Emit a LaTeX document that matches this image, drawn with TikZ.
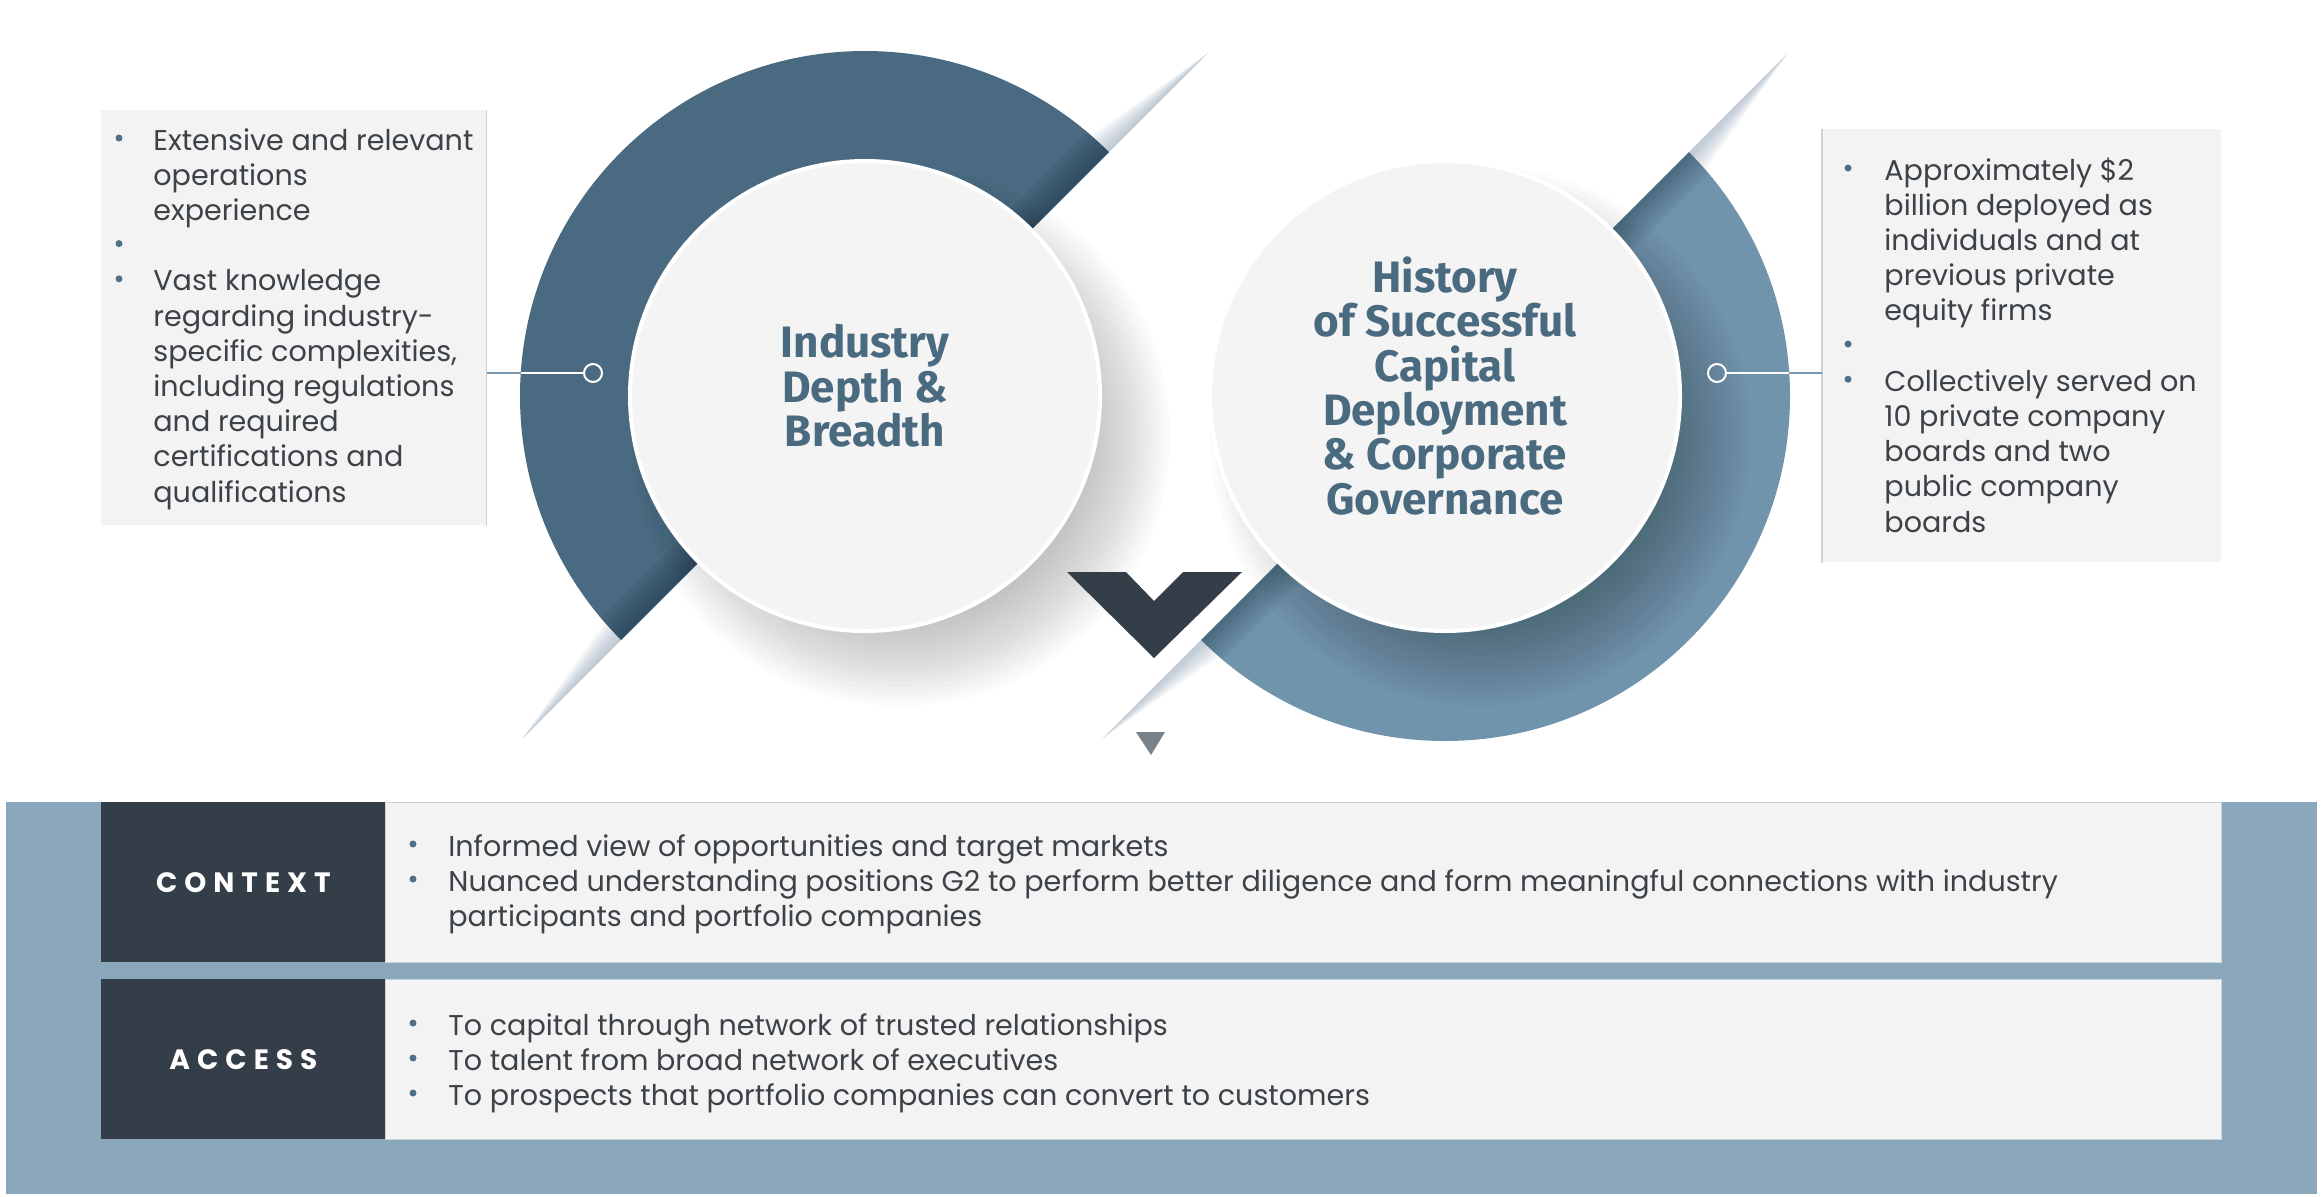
\documentclass[tikz,border=0pt]{standalone}
\usepackage{fontspec}
\setmainfont{Poppins}
\newfontfamily\titlefont{Fira Sans}
\usepackage{tikz}

\definecolor{ringdark}{RGB}{73,106,128}
\definecolor{ringlight}{RGB}{112,148,171}
\definecolor{folddark}{RGB}{20,40,60}
\definecolor{discgray}{RGB}{244,244,244}
\definecolor{slate}{RGB}{52,62,72}
\definecolor{pointgray}{RGB}{123,129,136}
\definecolor{panelblue}{RGB}{138,166,187}
\definecolor{boxgray}{RGB}{243,243,243}
\definecolor{bodygray}{RGB}{60,66,72}
\definecolor{dotblue}{RGB}{79,112,136}
\definecolor{titleblue}{RGB}{74,106,128}
\definecolor{edgeblue}{RGB}{200,210,218}
\definecolor{wireblue}{RGB}{122,150,170}
\definecolor{streakblue}{RGB}{110,135,158}

\tikzset{
    bodytext/.style={anchor=base west, inner sep=0pt, text=bodygray, font=\fontsize{14.3}{16}\selectfont},
    titletext/.style={anchor=base, inner sep=0pt, text=titleblue, font=\titlefont\bfseries\fontsize{22}{24}\selectfont},
    bulletdot/.style={circle, fill=dotblue, inner sep=0pt, minimum size=3.5pt},
    pindot/.style={circle, draw=white, line width=1pt, inner sep=0pt, minimum size=9pt},
    disc/.style={circle, fill=discgray, draw=white, line width=2pt, inner sep=0pt, minimum size=235pt},
    infobox/.style={fill=boxgray, inner sep=0pt, anchor=north west},
    labelcell/.style={fill=slate, inner sep=0pt, anchor=north west, minimum width=142pt, minimum height=80pt,
        text=white, font=\bfseries\fontsize{14}{16}\selectfont\addfontfeature{LetterSpace=25}},
    textcell/.style={fill=boxgray, draw=edgeblue, line width=0.5pt, inner sep=0pt, anchor=north west,
        minimum width=918pt, minimum height=80pt},
}

\begin{document}
\begin{tikzpicture}[x=0.5pt, y=-0.5pt]

    \useasboundingbox (0,0) rectangle (2324,1196);

    % half rings, cut along the diagonals
    \begin{scope}
        \clip (0,0) -- (1261,0) -- (0,1261) -- cycle;
        \fill[ringdark] (865,396) circle (345);
        \clip (865,396) circle (345);
        \foreach \k in {6,12,...,42}
            \fill[folddark, opacity=0.07] (1261,0) -- (0,1261) -- (0,1261-\k) -- (1261-\k,0) -- cycle;
    \end{scope}

    \begin{scope}
        \clip (1841,0) -- (2324,0) -- (2324,1196) -- (645,1196) -- cycle;
        \fill[ringlight] (1445,396) circle (345);
        \clip (1445,396) circle (345);
        \foreach \k in {6,12,...,42}
            \fill[folddark, opacity=0.06] (1841,0) -- (1841+\k,0) -- (645+\k,1196) -- (645,1196) -- cycle;
    \end{scope}

    \foreach \w in {3,6,...,24} {
        \fill[streakblue, opacity=0.07] (1109,152) -- (1208,53) -- ({1109-0.707*\w},{152-0.707*\w}) -- cycle;
        \fill[streakblue, opacity=0.07] (621,640) -- (522,739) -- ({621-0.707*\w},{640-0.707*\w}) -- cycle;
        \fill[streakblue, opacity=0.07] (1689,152) -- (1788,53) -- ({1689+0.707*\w},{152+0.707*\w}) -- cycle;
        \fill[streakblue, opacity=0.07] (1201,640) -- (1102,739) -- ({1201+0.707*\w},{640+0.707*\w}) -- cycle;
    }

    % soft shadows under the discs
    \foreach \r in {170,175,...,270} {
        \fill[black, opacity=0.016] (900,436) circle (\r);
        \fill[black, opacity=0.016] (1480,436) circle (\r);
    }

    \node[disc] (discA) at (865,396) {};
    \node[disc] (discB) at (1445,396) {};

    \foreach \t [count=\i from 0] in {Industry, Depth \&, Breadth}
        \node[titletext] (tA\i) at (865,{357.5+44.5*\i}) {\t};
    \foreach \t [count=\i from 0] in {History, of Successful, Capital, Deployment, \& Corporate, Governance}
        \node[titletext] (tB\i) at (1445,{292.5+44.3*\i}) {\t};

    \fill[slate] (1067,572) -- (1154,658) -- (1242,572) -- (1183,572) -- (1154,601) -- (1126,572) -- cycle;
    \fill[pointgray] (1136,732) -- (1165,732) -- (1151,755) -- cycle;

    % side boxes
    \node[infobox, minimum width=192.5pt, minimum height=207.5pt] (boxA) at (101,110) {};
    \draw[edgeblue, line width=0.6pt] (boxA.north east) -- (boxA.south east);
    \node[infobox, minimum width=199.5pt, minimum height=216.5pt] (boxB) at (1822,129) {};
    \draw[edgeblue, line width=0.6pt] (boxB.north west) -- (boxB.south west);

    \foreach \t [count=\i from 0] in {Extensive and relevant, operations, experience}
        \node[bodytext] (lA\i) at (153,{150+35.2*\i}) {\t};
    \foreach \t [count=\i from 0] in {Vast knowledge, regarding industry-, {specific complexities,}, including regulations, and required, certifications and, qualifications}
        \node[bodytext] (mA\i) at (153,{290.8+35.2*\i}) {\t};
    \foreach \y [count=\i] in {138,243.6,278.8}
        \node[bulletdot] (bA\i) at (119,\y) {};

    \foreach \t [count=\i from 0] in {Approximately \$2, billion deployed as, individuals and at, previous private, equity firms}
        \node[bodytext] (lB\i) at (1884,{180+35.2*\i}) {\t};
    \foreach \t [count=\i from 0] in {Collectively served on, 10 private company, boards and two, public company, boards}
        \node[bodytext] (mB\i) at (1884,{391.2+35.2*\i}) {\t};
    \foreach \y [count=\i] in {168,344,379.2}
        \node[bulletdot] (bB\i) at (1848,\y) {};

    \node[pindot] (pinA) at (593,373) {};
    \node[pindot] (pinB) at (1717,373) {};
    \coordinate (rimA) at (521,373);
    \coordinate (rimB) at (1789,373);
    \draw[wireblue, line width=0.6pt] (boxA.east |- pinA) -- (rimA);
    \draw[white, line width=0.8pt] (rimA) -- (pinA);
    \draw[white, line width=0.8pt] (pinB) -- (rimB);
    \draw[wireblue, line width=0.6pt] (rimB) -- (boxB.west |- pinB);

    % bottom panel
    \fill[panelblue] (6,802) rectangle (2317,1194);

    \node[textcell] (ctxText) at (385,802) {};
    \node[labelcell] (ctxLabel) at (101,802) {CONTEXT};
    \node[textcell] (accText) at (385,979) {};
    \node[labelcell] (accLabel) at (101,979) {ACCESS};

    \foreach \t [count=\i from 0] in {Informed view of opportunities and target markets, Nuanced understanding positions G2 to perform better diligence and form meaningful connections with industry, participants and portfolio companies}
        \node[bodytext] (cT\i) at (448,{856+35*\i}) {\t};
    \foreach \y [count=\i] in {844,879}
        \node[bulletdot] (cB\i) at (413,\y) {};

    \foreach \t [count=\i from 0] in {To capital through network of trusted relationships, To talent from broad network of executives, To prospects that portfolio companies can convert to customers}
        \node[bodytext] (aT\i) at (448,{1035+35*\i}) {\t};
    \foreach \y [count=\i] in {1023,1058,1093}
        \node[bulletdot] (aB\i) at (413,\y) {};

\end{tikzpicture}
\end{document}
